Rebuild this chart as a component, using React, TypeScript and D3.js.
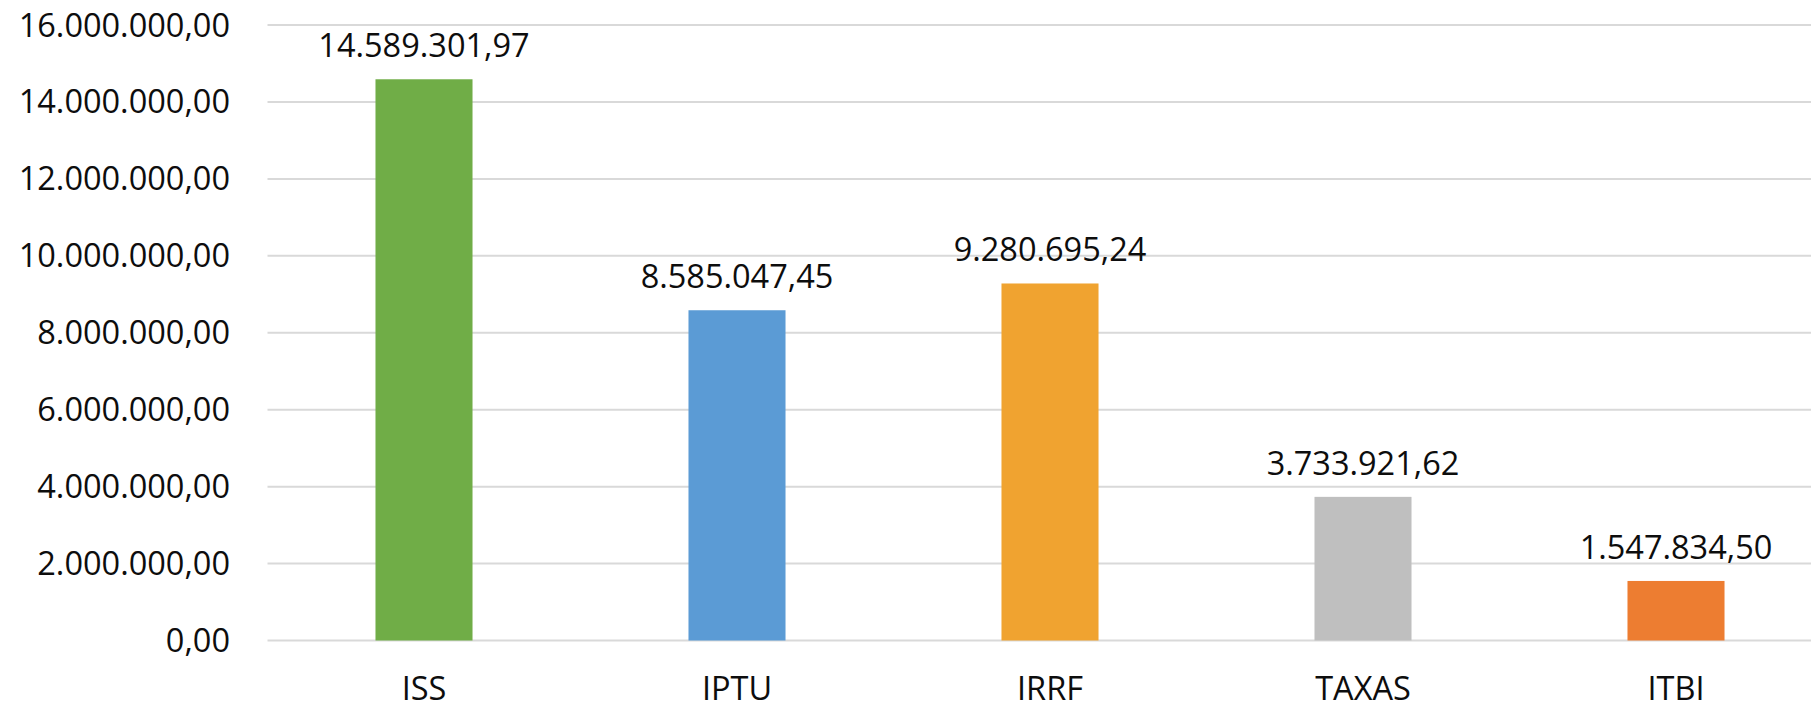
import React from "react";
import * as d3 from "d3";

const categories = ["ISS", "IPTU", "IRRF", "TAXAS", "ITBI"];
const values = [14589301.97, 8585047.45, 9280695.24, 3733921.62, 1547834.5];
const barColors = ["#70AD47", "#5B9BD5", "#F0A330", "#BFBFBF", "#ED7D31"];
const yTicks = [0, 2000000, 4000000, 6000000, 8000000, 10000000, 12000000, 14000000, 16000000];

const W = 1811;
const H = 702;
const FONT = "'Open Sans', sans-serif";
const FS = 32.5;

const locale = d3.formatLocale({ decimal: ",", thousands: ".", grouping: [3], currency: ["R$", ""] });
const fmt = locale.format(",.2f");

export default function App() {
  const x0 = 267.5;
  const x1 = 1832.5;
  const yBottom = 640.5;
  const yTop = 25;
  const x = d3.scaleBand<string>().domain(categories).range([x0, x1]).paddingInner(0.69).paddingOuter(0.345);
  const y = d3.scaleLinear().domain([0, 16000000]).range([yBottom, yTop]);

  return (
    <svg width={W} height={H} style={{ position: "absolute", left: 0, top: 0, background: "#fff" }} fontFamily={FONT}>
      <rect x={0} y={0} width={W} height={H} fill="#fff" />
      {yTicks.map((t) => (
        <g key={t}>
          <line x1={x0} x2={x1} y1={y(t)} y2={y(t)} stroke="#D9D9D9" strokeWidth={2} />
          <text x={230} y={y(t) + 11.5} textAnchor="end" fontSize={FS} fill="#0d0d0d">
            {fmt(t)}
          </text>
        </g>
      ))}
      {categories.map((c, i) => {
        const bx = x(c)!;
        const bw = x.bandwidth();
        const cx = bx + bw / 2;
        return (
          <g key={c}>
            <rect x={bx} y={y(values[i])} width={bw} height={yBottom - y(values[i])} fill={barColors[i]} />
            <text x={cx} y={y(values[i]) - 22} textAnchor="middle" fontSize={FS} fill="#0d0d0d">
              {fmt(values[i])}
            </text>
            <text x={cx} y={yBottom + 59.5} textAnchor="middle" fontSize={FS} fill="#0d0d0d">
              {c}
            </text>
          </g>
        );
      })}
    </svg>
  );
}
